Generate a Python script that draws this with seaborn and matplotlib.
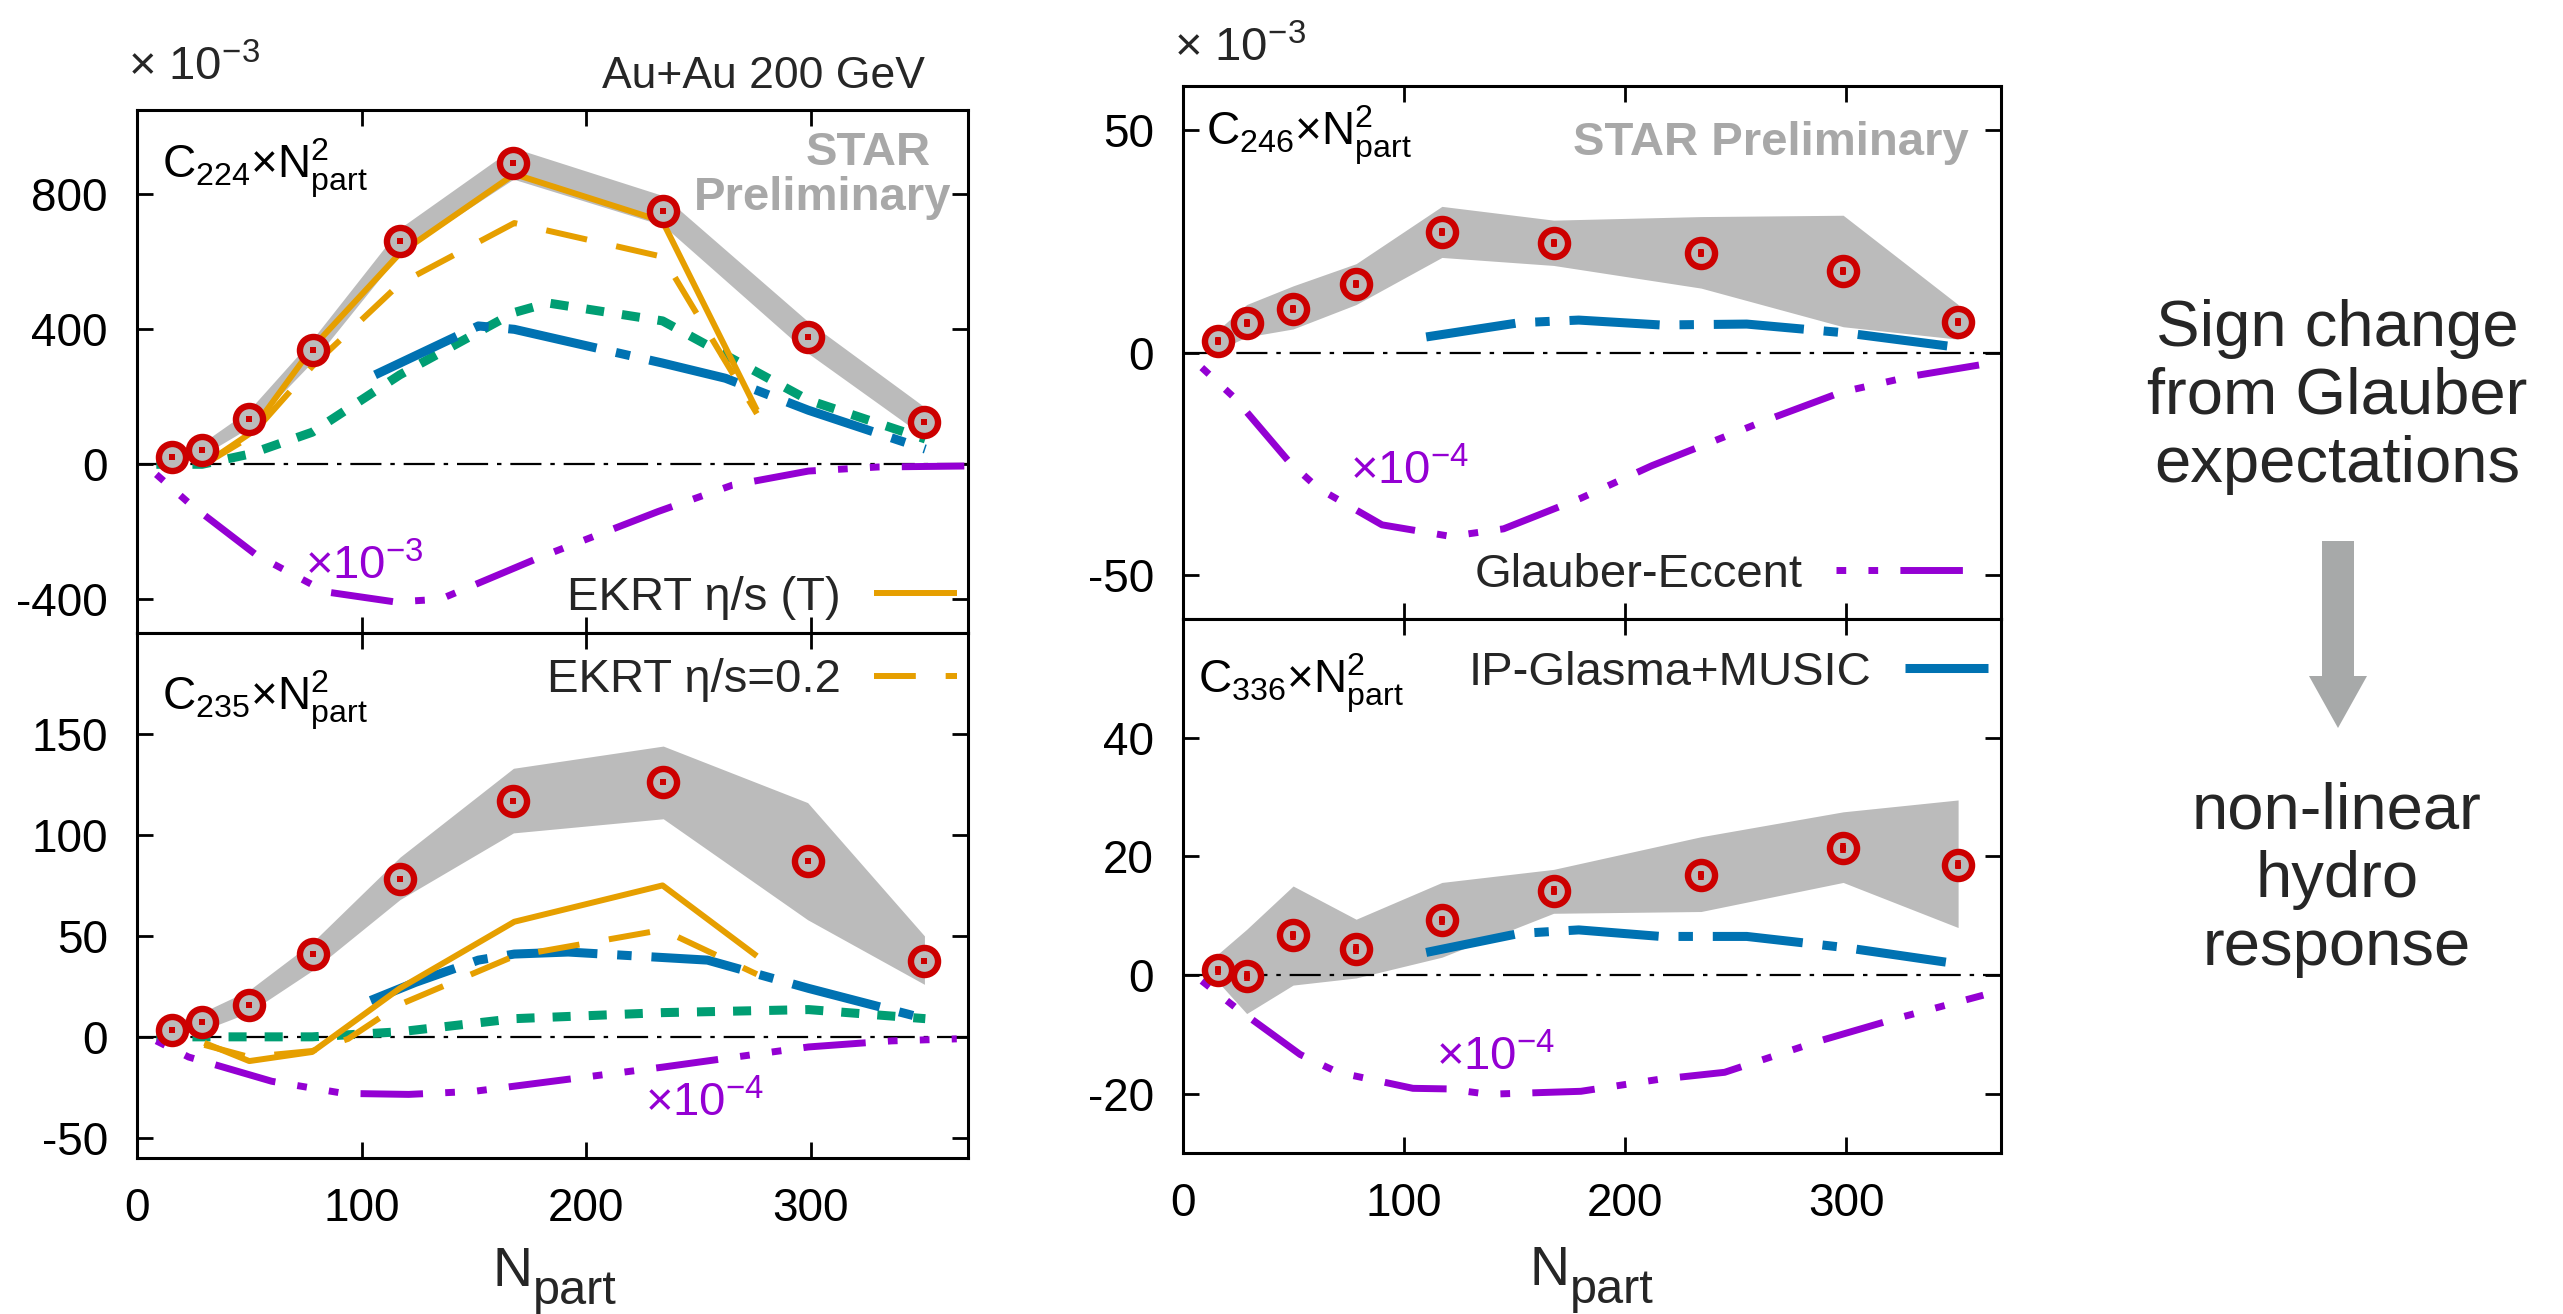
import numpy as np
import pandas as pd
import seaborn as sns
import matplotlib
matplotlib.use("Agg")
import matplotlib.pyplot as plt
from matplotlib.patches import Polygon

sns.set_theme(style="ticks")
plt.rcParams['font.family'] = ['Liberation Sans', 'DejaVu Sans']
plt.rcParams['mathtext.fontset'] = 'custom'
plt.rcParams['mathtext.rm'] = 'Liberation Sans'
plt.rcParams['mathtext.it'] = 'Liberation Sans:italic'
plt.rcParams['mathtext.bf'] = 'Liberation Sans:bold'
plt.rcParams['axes.unicode_minus'] = False

# ---------------- data ----------------
npart = [15.7, 28.8, 49.8, 78.3, 117.1, 167.6, 234.3, 298.6, 350.6]

# C224 x Npart^2 (x1e-3)
c224 = [21, 42, 133, 339, 663, 892, 752, 376, 126]
c224_lo = [8, 25, 108, 305, 625, 845, 708, 330, 82]
c224_hi = [32, 62, 160, 372, 700, 938, 796, 424, 170]
c224_stat = [8, 8, 8, 8, 8, 8, 8, 8, 8]
c224_ekrtT_x = [30, 50, 78, 117, 168, 234, 276]
c224_ekrtT_y = [0, 90, 345, 625, 860, 720, 160]
c224_ekrt02_x = [30, 50, 78, 117, 168, 234, 276]
c224_ekrt02_y = [0, 80, 290, 535, 715, 615, 150]
c224_ipg_x = [106, 152, 168, 234, 262, 299, 351]
c224_ipg_y = [265, 410, 400, 300, 255, 160, 45]
c224_grn_x = [8.6, 29, 50, 78, 117, 168, 183, 234, 299, 351]
c224_grn_y = [0, 0, 30, 95, 265, 450, 478, 425, 190, 75]
c224_glb_x = [8.6, 24, 53, 84, 115, 135, 180, 232, 265, 299, 330, 370]
c224_glb_y = [-30, -120, -268, -378, -408, -400, -274, -140, -62, -20, -8, -5]

# C235 x Npart^2 (x1e-3)
c235 = [3.5, 7.5, 16, 41, 78.4, 117, 126, 87, 37.7]
c235_lo = [1, 3, 12, 33, 68, 101, 108, 58, 26]
c235_hi = [7, 12, 23, 47, 89, 133, 144, 116, 50]
c235_stat = [1.5, 1.5, 1.5, 1.5, 1.5, 1.5, 1.5, 1.5, 1.5]
c235_ekrtT_x = [30, 50, 78, 117, 168, 234, 276]
c235_ekrtT_y = [-3, -12, -7.5, 24, 57, 75, 40]
c235_ekrt02_x = [30, 50, 78, 94, 117, 168, 234, 276]
c235_ekrt02_y = [-4, -10, -7, -1, 16, 40, 53, 31]
c235_ipg_x = [104, 124, 152, 168, 192, 254, 299, 351]
c235_ipg_y = [18, 27, 38, 41, 42, 38, 24, 9]
c235_grn_x = [8.6, 29, 78, 117, 168, 234, 299, 351]
c235_grn_y = [0, 0, 0, 2.5, 9, 12, 13.5, 9]
c235_glb_x = [8.6, 23, 60, 92, 121, 150, 192, 234, 299, 336, 365]
c235_glb_y = [-2, -10, -22, -28, -28.5, -27, -21, -15, -5, -2, -1]

# C246 x Npart^2 (x1e-3)
c246 = [2.5, 6.7, 9.9, 15.4, 27.2, 24.6, 22.5, 18.4, 6.9]
c246_lo = [0.5, 3.5, 5.3, 10.8, 21.4, 19.6, 14.5, 5.8, 3]
c246_hi = [5, 10.8, 15, 20, 32.9, 29.8, 30.6, 30.9, 10.8]
c246_stat = [0.9, 0.9, 0.9, 0.9, 0.9, 0.9, 0.9, 0.9, 0.9]
c246_ipg_x = [110, 152, 179, 216, 255, 300, 350]
c246_ipg_y = [3.5, 6.7, 7.3, 6.2, 6.4, 4.4, 1.2]
c246_glb_x = [8.5, 23.5, 48, 61, 90, 121, 145, 180, 212, 263, 298, 330, 370]
c246_glb_y = [-3.4, -10.3, -24.6, -30.5, -38.8, -41.4, -39.7, -32.8, -25.5, -15.4, -8.9, -5.3, -2]

# C336 x Npart^2 (x1e-3)
c336 = [0.8, -0.2, 6.7, 4.4, 9.2, 14.2, 16.8, 21.4, 18.6]
c336_lo = [-1.1, -6.5, -1.7, -0.5, 3, 10.4, 10.7, 15.6, 8]
c336_hi = [3.5, 7.7, 15, 9.4, 15.6, 17.8, 23.3, 27.5, 29.5]
c336_stat = [0.8, 0.8, 0.8, 0.8, 0.8, 0.8, 0.8, 0.8, 0.8]
c336_ipg_x = [110, 152, 179, 216, 255, 300, 350]
c336_ipg_y = [3.8, 7.0, 7.6, 6.5, 6.5, 4.6, 1.9]
c336_glb_x = [8.5, 23.5, 53, 70, 104, 120, 138, 180, 215, 245, 288, 323, 362]
c336_glb_y = [-1, -5.4, -13.4, -16.4, -19.1, -19.2, -20.1, -19.6, -17.6, -16.4, -11.1, -7.3, -3.4]

# ---------------- style ----------------
RED = '#cc0000'
BAND = '#bbbbbb'
ORANGE = '#e69f00'
BLUE = '#0072b2'
GREEN = '#009e73'
PURPLE = '#9400d3'
STARGRAY = '#a8a8a8'

LS_ORANGE_SOLID = dict(color=ORANGE, linewidth=4.3, linestyle='-')
LS_ORANGE_DASH = dict(color=ORANGE, linewidth=4.3, linestyle=(0, (7, 5)))
LS_BLUE = dict(color=BLUE, linewidth=6.5, linestyle=(0, (10, 2.2, 1.6, 2.2)))
LS_GREEN = dict(color=GREEN, linewidth=6.5, linestyle=(0, (2.0, 2.0)))
LS_PURPLE = dict(color=PURPLE, linewidth=5.0, linestyle=(0, (1.4, 3.2, 1.4, 3.2, 9, 3.2)))

W, H = 2563, 1314
fig = plt.figure(figsize=(W / 100, H / 100), dpi=100)
fig.patch.set_facecolor('white')


def px_axes(x0, y0, x1, y1):
    return fig.add_axes([x0 / W, 1 - y1 / H, (x1 - x0) / W, (y1 - y0) / H])


ax_tl = px_axes(137, 110, 968, 633)
ax_bl = px_axes(137, 633, 968, 1158)
ax_tr = px_axes(1183, 86, 2001, 619)
ax_br = px_axes(1183, 619, 2001, 1153)


def line(ax, xs, ys, style):
    df = pd.DataFrame({'x': xs, 'y': ys})
    sns.lineplot(data=df, x='x', y='y', ax=ax, sort=False, errorbar=None,
                 legend=False, zorder=3, **style)
    ln = ax.lines[-1]
    ln.set_dash_capstyle('butt')
    ln.set_solid_capstyle('butt')
    return ln


def data_points(ax, y, lo, hi, stat):
    ax.fill_between(npart, lo, hi, color=BAND, lw=0, zorder=1)
    ax.plot(npart, y, 'o', ms=19.5, mfc=BAND, mec=RED, mew=4.6, zorder=6, ls='none')
    ax.errorbar(npart, y, yerr=stat, fmt='none', ecolor=RED, elinewidth=4.0, zorder=7)
    ax.plot(npart, y, 's', ms=4.0, mfc=RED, mec=RED, mew=0, zorder=7, ls='none')


def frame(ax, ylim, yticks, xlabels, nx, ny):
    ax.axhline(0, color='black', lw=1.6, linestyle=(0, (14, 4, 2, 4)), zorder=2)
    ax.set_xlim(0, 370)
    ax.set_ylim(*ylim)
    ax.set_xticks([0, 100, 200, 300])
    ax.set_yticks(yticks)
    ax.tick_params(direction='in', length=11.5, width=2.0, top=True, right=True,
                   bottom=True, left=True, labelsize=33, pad=21, colors='black',
                   labelbottom=xlabels)
    for s in ax.spines.values():
        s.set_linewidth(2.2)
        s.set_color('black')
        s.set_visible(True)
    ax.set_xlabel('')
    ax.set_ylabel('')
    ax.grid(False)
    ax.set_facecolor('white')
    if xlabels:
        ax.text(nx, ny[0], 'N', transform=ax.transAxes, fontsize=40,
                ha='right', va='baseline')
        ax.text(nx, ny[1], 'part', transform=ax.transAxes, fontsize=35,
                ha='left', va='baseline')


def legend(ax, handle, text, anchor, hl):
    ax.legend(handles=[handle], labels=[text], loc='center right', bbox_to_anchor=anchor,
              frameon=False, markerfirst=False, handlelength=hl, handletextpad=0.7,
              borderpad=0, borderaxespad=0, fontsize=34)


# ---- top-left: C224
ax = ax_tl
data_points(ax, c224, c224_lo, c224_hi, c224_stat)
line(ax, c224_grn_x, c224_grn_y, LS_GREEN)
line(ax, c224_ipg_x, c224_ipg_y, LS_BLUE)
line(ax, c224_glb_x, c224_glb_y, LS_PURPLE)
line(ax, c224_ekrt02_x, c224_ekrt02_y, LS_ORANGE_DASH)
h_ekrtT = line(ax, c224_ekrtT_x, c224_ekrtT_y, LS_ORANGE_SOLID)
frame(ax, (-500, 1050), [-400, 0, 400, 800], False, None, None)
legend(ax, h_ekrtT, 'EKRT η/s (T)', (0.987, 0.067), 1.76)
ax.text(0.030, 0.869, r'C$_{224}$×N$^{2}_{\rm part}$', transform=ax.transAxes,
        fontsize=33, va='baseline', ha='left', color='black')
ax.text(0.955, 0.895, 'STAR', transform=ax.transAxes, fontsize=34, fontweight='bold',
        color=STARGRAY, ha='right', va='baseline')
ax.text(0.980, 0.809, 'Preliminary', transform=ax.transAxes, fontsize=34, fontweight='bold',
        color=STARGRAY, ha='right', va='baseline')
ax.text(75, -340, r'×10$^{-3}$', fontsize=34, color=PURPLE, ha='left', va='baseline')

# ---- bottom-left: C235
ax = ax_bl
data_points(ax, c235, c235_lo, c235_hi, c235_stat)
line(ax, c235_grn_x, c235_grn_y, LS_GREEN)
line(ax, c235_ipg_x, c235_ipg_y, LS_BLUE)
line(ax, c235_glb_x, c235_glb_y, LS_PURPLE)
h_ekrt02 = line(ax, c235_ekrt02_x, c235_ekrt02_y, LS_ORANGE_DASH)
line(ax, c235_ekrtT_x, c235_ekrtT_y, LS_ORANGE_SOLID)
frame(ax, (-60, 200), [-50, 0, 50, 100, 150], True, 0.4765, (-0.2438, -0.278))
legend(ax, h_ekrt02, 'EKRT η/s=0.2', (0.987, 0.910), 1.76)
ax.text(0.030, 0.852, r'C$_{235}$×N$^{2}_{\rm part}$', transform=ax.transAxes,
        fontsize=33, va='baseline', ha='left', color='black')
ax.text(226, -39.4, r'×10$^{-4}$', fontsize=34, color=PURPLE, ha='left', va='baseline')

# ---- top-right: C246
ax = ax_tr
data_points(ax, c246, c246_lo, c246_hi, c246_stat)
line(ax, c246_ipg_x, c246_ipg_y, LS_BLUE)
h_glb = line(ax, c246_glb_x, c246_glb_y, LS_PURPLE)
frame(ax, (-60, 60), [-50, 0, 50], False, None, None)
legend(ax, h_glb, 'Glauber-Eccent', (0.968, 0.0826), 2.95)
ax.text(0.028, 0.889, r'C$_{246}$×N$^{2}_{\rm part}$', transform=ax.transAxes,
        fontsize=33, va='baseline', ha='left', color='black')
ax.text(0.961, 0.8705, 'STAR Preliminary', transform=ax.transAxes, fontsize=34,
        fontweight='bold', color=STARGRAY, ha='right', va='baseline')
ax.text(75.5, -29.6, r'×10$^{-4}$', fontsize=34, color=PURPLE, ha='left', va='baseline')

# ---- bottom-right: C336
ax = ax_br
data_points(ax, c336, c336_lo, c336_hi, c336_stat)
h_ipg = line(ax, c336_ipg_x, c336_ipg_y, LS_BLUE)
line(ax, c336_glb_x, c336_glb_y, LS_PURPLE)
frame(ax, (-30, 60), [-20, 0, 20, 40], True, 0.473, (-0.247, -0.280))
legend(ax, h_ipg, 'IP-Glasma+MUSIC', (0.984, 0.899), 1.76)
ax.text(0.018, 0.861, r'C$_{336}$×N$^{2}_{\rm part}$', transform=ax.transAxes,
        fontsize=33, va='baseline', ha='left', color='black')
ax.text(114.5, -16, r'×10$^{-4}$', fontsize=34, color=PURPLE, ha='left', va='baseline')

# ---- figure-level texts
fig.text(128 / W, 1 - 80 / H, r'× 10$^{-3}$', fontsize=34, ha='left', va='baseline')
fig.text(1174 / W, 1 - 61 / H, r'× 10$^{-3}$', fontsize=34, ha='left', va='baseline')
fig.text(925 / W, 1 - 88 / H, 'Au+Au 200 GeV', fontsize=32, ha='right', va='baseline')

fig.text(2337 / W, 1 - 397 / H, 'Sign change\nfrom Glauber\nexpectations', fontsize=47,
         ha='center', va='center', linespacing=1.18, multialignment='center')
fig.text(2337 / W, 1 - 880 / H, 'non-linear\nhydro\nresponse', fontsize=47,
         ha='center', va='center', linespacing=1.18, multialignment='center')

arrow_px = [(2322, 541), (2354, 541), (2354, 676), (2367, 676), (2338, 728),
            (2309, 676), (2322, 676)]
arrow = Polygon([(x / W, 1 - y / H) for x, y in arrow_px], closed=True,
                transform=fig.transFigure, facecolor='#a7a9a9', edgecolor='none')
fig.patches.append(arrow)

fig.savefig('out.png', dpi=100, facecolor='white')
